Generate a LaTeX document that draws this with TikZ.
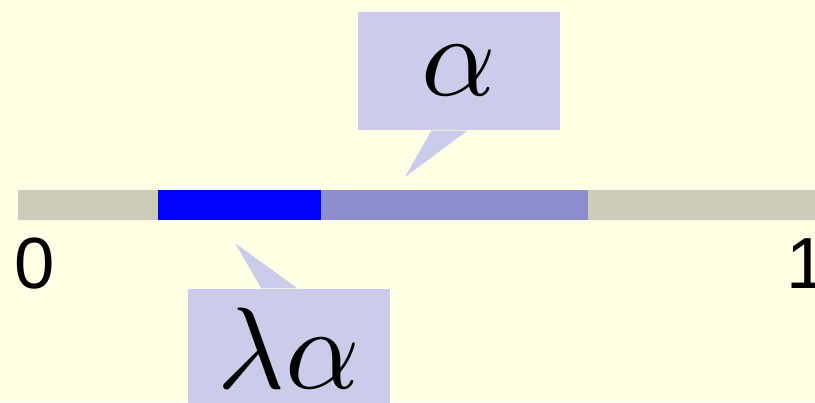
\documentclass[tikz,border=0pt]{standalone}
\usepackage{graphicx}
\usepackage{fontspec}
\newfontfamily\digitfont{Liberation Sans}
\usepackage{tikz}
\usetikzlibrary{calc}
\definecolor{paperyellow}{RGB}{255, 255, 230}
\definecolor{trackgray}{RGB}{204, 204, 185}
\definecolor{alphapurple}{RGB}{141, 141, 204}
\definecolor{lambdablue}{RGB}{0, 0, 255}
\definecolor{calloutfill}{RGB}{204, 204, 234}
\newcommand{\bigmath}[1]{\scalebox{3.3}{$#1$}}

\begin{document}
\begin{tikzpicture}[x=0.01cm, y=-0.01cm,
  endlabel/.style={font=\digitfont\fontsize{20.6}{24}\selectfont, anchor=base, inner sep=0pt},
  calloutbox/.style={fill=calloutfill, minimum width=2.02cm, minimum height=1.18cm, inner sep=0pt}]
% Paper and frame
\fill[paperyellow] (0,0) rectangle (815,402);
\useasboundingbox (0,0) rectangle (815,402);

% The unit interval with the two marked pieces
\fill[trackgray] (18,190) rectangle (830,220);
\fill[alphapurple] (158,190) rectangle (588,220);
\fill[lambdablue] (158,190) rectangle (321,220);

% End labels
\node[endlabel] (zero) at (35,288) {0};
\node[endlabel] (one) at (807,288) {1};

% Callouts
\node[calloutbox] (alpha) at (459,71) {\bigmath{\alpha}};
\coordinate (alphatip) at (405,177);
\fill[calloutfill] ($(alpha.south west)+(74,0)$) -- (alphatip) -- ($(alpha.south west)+(110,0)$) -- cycle;

\node[calloutbox] (lambdaalpha) at (289,348) {\bigmath{\lambda\alpha}};
\coordinate (lambdatip) at (235,243);
\fill[calloutfill] ($(lambdaalpha.north west)+(74,0)$) -- (lambdatip) -- ($(lambdaalpha.north west)+(110,0)$) -- cycle;
\end{tikzpicture}
\end{document}
